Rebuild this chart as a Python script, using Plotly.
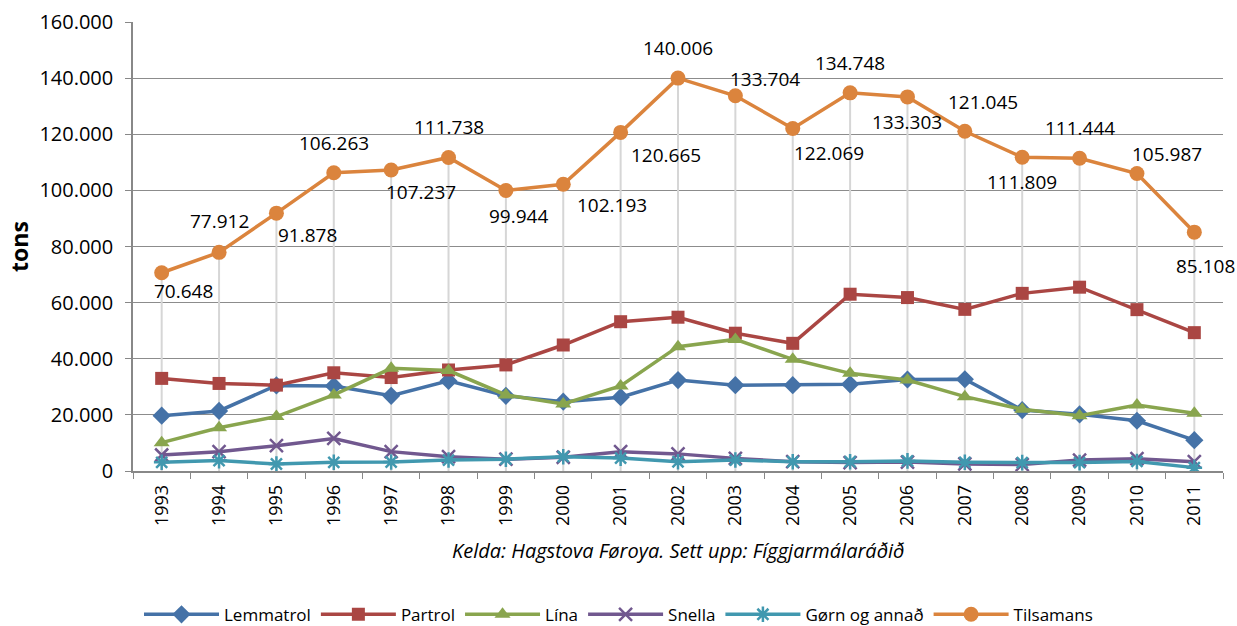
import plotly.graph_objects as go

years = [str(y) for y in range(1993, 2012)]

lemmatrol = [19700, 21400, 30500, 30300, 26800, 32100, 26800, 24700, 26300, 32400,
             30600, 30600, 30900, 32600, 32700, 21700, 20200, 17900, 11000]
partrol = [33000, 31200, 30600, 35000, 33300, 36000, 37800, 44900, 53200, 54800,
           49100, 45500, 63000, 61800, 57600, 63300, 65500, 57500, 49300]
lina = [10100, 15400, 19400, 27100, 36600, 35800, 27100, 23900, 30300, 44300,
        46900, 39800, 34800, 32400, 26500, 22000, 19700, 23500, 20600]
snella = [5700, 6900, 9000, 11600, 6900, 5100, 4200, 4900, 6900, 6100,
          4500, 3300, 3000, 3200, 2500, 2300, 3900, 4400, 3300]
gorn = [3100, 3700, 2500, 3100, 3200, 3900, 4200, 5100, 4600, 3300,
        3900, 3300, 3300, 3600, 3100, 3000, 3000, 3400, 1200]
tilsamans = [70648, 77912, 91878, 106263, 107237, 111738, 99944, 102193, 120665, 140006,
             133704, 122069, 134748, 133303, 121045, 111809, 111444, 105987, 85108]

# label offsets (pixels) for the Tilsamans value labels
label_dx = [22, 0, 31, 0, 30, 0, 13, 49, 45, 0, 30, 36, 0, 0, 18, 0, 0, 30, 11]
label_dy = [-18, 31, -22, 30, -22, 30, -25, -21, -23, 30, 17, -25, 30, -25, 29, -25, 30, 20, -34]

FONT = "Open Sans"

fig = go.Figure()

# drop lines from Tilsamans to the axis
dx, dy = [], []
for yr, v in zip(years, tilsamans):
    dx += [yr, yr, None]
    dy += [0, v, None]
fig.add_trace(go.Scatter(x=dx, y=dy, mode="lines", line=dict(color="#d6d6d6", width=2),
                         showlegend=False, hoverinfo="skip"))

series = [
    ("Lemmatrol", lemmatrol, "#4572A7", "diamond", 14, None),
    ("Partrol", partrol, "#AA4643", "square", 13, None),
    ("Lína", lina, "#89A54E", "triangle-up", 14, None),
    ("Snella", snella, "#71588F", "x-thin-open", 13, 2.5),
    ("Gørn og annað", gorn, "#4198AF", "asterisk-open", 13, 2.5),
]
for name, vals, col, sym, size, lw in series:
    marker = dict(symbol=sym, size=size, color=col)
    if lw:
        marker["line"] = dict(color=col, width=lw)
    fig.add_trace(go.Scatter(x=years, y=vals, name=name, mode="lines+markers",
                             line=dict(color=col, width=3.5), marker=marker))

fig.add_trace(go.Scatter(x=years, y=tilsamans, name="Tilsamans", mode="lines+markers",
                         line=dict(color="#DB843D", width=3.5),
                         marker=dict(symbol="circle", size=15, color="#DB843D")))

annotations = []
for i, (v, ox, oy) in enumerate(zip(tilsamans, label_dx, label_dy)):
    annotations.append(dict(x=i, y=v, xref="x", yref="y", text=f"{v:,}".replace(",", "."),
                            showarrow=False, xshift=ox, yshift=oy,
                            font=dict(family=FONT, size=19, color="#000000")))
annotations.append(dict(text="<i>Kelda: Hagstova Føroya. Sett upp: Fíggjarmálaráðið</i>",
                        xref="paper", yref="paper", x=0.5, y=-0.178, yanchor="middle",
                        showarrow=False, font=dict(family=FONT, size=20)))

fig.update_layout(
    width=1237, height=626,
    paper_bgcolor="white", plot_bgcolor="white",
    separators=",.",
    font=dict(family=FONT, size=18, color="#000000"),
    margin=dict(l=133, r=14, t=22, b=155, autoexpand=False),
    legend=dict(orientation="h", xref="container", x=0.5, xanchor="center",
                yref="container", y=0.018, yanchor="middle",
                font=dict(family=FONT, size=17), itemwidth=75, tracegroupgap=0),
    annotations=annotations,
)
fig.update_xaxes(type="category", tickson="boundaries", ticks="outside", ticklen=6,
                 tickcolor="#888888", showgrid=False, showline=True, linecolor="#888888",
                 linewidth=1.5, tickangle=-90, tickfont=dict(size=18), range=[-0.5, 18.5],
                 ticklabelstandoff=5, automargin=False)
fig.update_yaxes(range=[0, 160000], dtick=20000, tickformat=",.0f", ticks="outside",
                 ticklen=6, tickcolor="#888888", showgrid=True, gridcolor="#8c8c8c",
                 gridwidth=1, showline=True, linecolor="#888888", linewidth=1.5,
                 zeroline=False, tickfont=dict(size=20), automargin=False,
                 ticklabelstandoff=8,
                 title=dict(text="<b>tons</b>", font=dict(size=23), standoff=4))

fig.write_html("out.html", post_script="document.body.style.margin='0';",
               config={"displayModeBar": False})
